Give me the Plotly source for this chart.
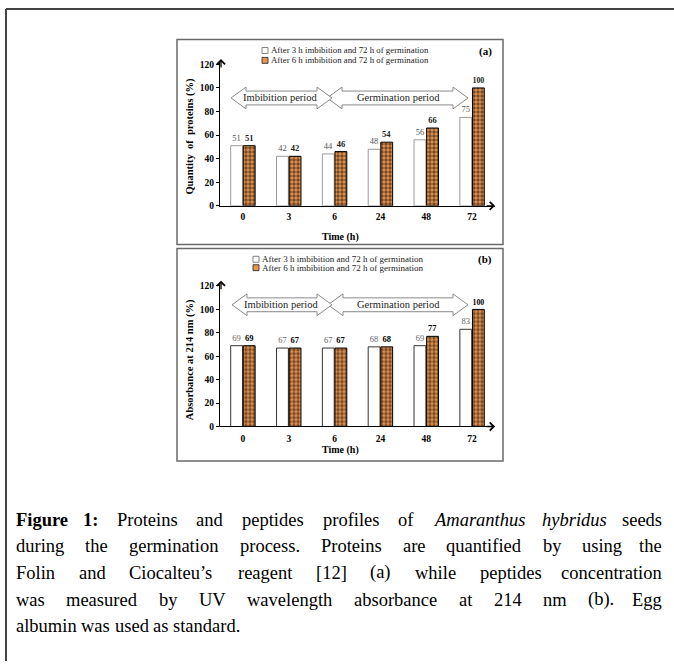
import plotly.graph_objects as go

# ---------------- data ----------------
categories = ["0", "3", "6", "24", "48", "72"]
proteins_3h = [51, 42, 44, 48, 56, 75]
proteins_6h = [51, 42, 46, 54, 66, 100]
absorb_3h = [69, 67, 67, 68, 69, 83]
absorb_6h = [69, 67, 67, 68, 77, 100]
y_ticks = [0, 20, 40, 60, 80, 100, 120]
legend_labels = ["After 3 h imbibition and 72 h of germination",
                 "After 6 h imbibition and 72 h of germination"]

W, H = 674, 666
FONT = "Liberation Serif"
ORANGE = "#e8954f"


def fx(px):
    return px / W


def fy(py):
    return 1 - py / H


fig = go.Figure()

# panel (a)
fig.add_trace(go.Bar(x=categories, y=proteins_3h, name=legend_labels[0],
                     marker=dict(color="white", line=dict(color="#9a9a9a", width=1)),
                     text=proteins_3h, textposition="outside",
                     textfont=dict(size=8.5, color="#555", family=FONT),
                     cliponaxis=False, xaxis="x", yaxis="y", showlegend=False))
fig.add_trace(go.Bar(x=categories, y=proteins_6h, name=legend_labels[1],
                     marker=dict(color=ORANGE, line=dict(color="black", width=1),
                                 pattern=dict(shape=".", fgcolor="black", bgcolor=ORANGE,
                                              size=4, solidity=0.6)),
                     text=proteins_6h, texttemplate="<b>%{y}</b>", textposition="outside",
                     textfont=dict(size=8.5, color="#222", family=FONT),
                     cliponaxis=False, xaxis="x", yaxis="y", showlegend=False))
# panel (b)
fig.add_trace(go.Bar(x=categories, y=absorb_3h, name=legend_labels[0],
                     marker=dict(color="white", line=dict(color="#333", width=1)),
                     text=absorb_3h, textposition="outside",
                     textfont=dict(size=8.5, color="#666", family=FONT),
                     cliponaxis=False, xaxis="x2", yaxis="y2", showlegend=False))
fig.add_trace(go.Bar(x=categories, y=absorb_6h, name=legend_labels[1],
                     marker=dict(color=ORANGE, line=dict(color="black", width=1),
                                 pattern=dict(shape=".", fgcolor="black", bgcolor=ORANGE,
                                              size=4, solidity=0.6)),
                     text=absorb_6h, texttemplate="<b>%{y}</b>", textposition="outside",
                     textfont=dict(size=8.5, color="black", family=FONT),
                     cliponaxis=False, xaxis="x2", yaxis="y2", showlegend=False))

# axis geometry (pixels)
xa0, xa1 = 220, 495
ya_zero, ya_120 = 206, 63
yb_zero, yb_120 = 429, 287
ytop = 122
ya_top = ya_zero - ytop * (ya_zero - ya_120) / 120
yb_top = yb_zero - ytop * (yb_zero - yb_120) / 120

xcommon = dict(type="category", range=[-0.5, 5.5], showline=True, linecolor="black",
               linewidth=1.3, ticks="", showgrid=False, zeroline=False,
               tickfont=dict(family=FONT, size=9.5, color="black", weight="bold"),
               domain=[fx(xa0), fx(xa1)])
ycommon = dict(range=[0, ytop], tickvals=y_ticks, showline=True, linecolor="black",
               linewidth=1.3, ticks="outside", ticklen=3, tickcolor="black",
               showgrid=False, zeroline=False,
               tickfont=dict(family=FONT, size=9.5, color="black", weight="bold"))

fig.update_layout(
    width=W, height=H, margin=dict(l=0, r=0, t=0, b=0),
    paper_bgcolor="white", plot_bgcolor="white",
    barmode="group", bargap=0.45, bargroupgap=0.06,
    font=dict(family=FONT, color="black"),
    xaxis=dict(**xcommon, anchor="y", ticklabelstandoff=2),
    yaxis=dict(**ycommon, anchor="x", domain=[fy(ya_zero), fy(ya_top)]),
    xaxis2=dict(**xcommon, anchor="y2", ticklabelstandoff=3),
    yaxis2=dict(**ycommon, anchor="x2", domain=[fy(yb_zero), fy(yb_top)]),
)

shapes = []
ann = []

# outer frame (top and left lines)
shapes.append(dict(type="line", xref="paper", yref="paper", x0=fx(6), x1=fx(674),
                   y0=fy(7), y1=fy(7), line=dict(color="#444", width=2)))
shapes.append(dict(type="line", xref="paper", yref="paper", x0=fx(6), x1=fx(6),
                   y0=fy(7), y1=fy(666), line=dict(color="#444", width=2)))
# panel boxes
for (t, b) in [(38, 245), (249, 464)]:
    shapes.append(dict(type="rect", xref="paper", yref="paper", x0=fx(177), x1=fx(503),
                       y0=fy(b), y1=fy(t), line=dict(color="#6a6a6a", width=1.5)))


def block_arrow(x0, x1, yc, hl=15, hh=11, bh=7):
    pts = [(x0, yc), (x0 + hl, yc - hh), (x0 + hl, yc - bh), (x1 - hl, yc - bh),
           (x1 - hl, yc - hh), (x1, yc), (x1 - hl, yc + hh), (x1 - hl, yc + bh),
           (x0 + hl, yc + bh), (x0 + hl, yc + hh)]
    path = "M" + " L".join(f"{fx(px):.5f},{fy(py):.5f}" for px, py in pts) + " Z"
    return dict(type="path", xref="paper", yref="paper", path=path,
                fillcolor="white", line=dict(color="#8a8a8a", width=1), layer="above")


for yc, (ix0, ix1, gx0, gx1) in [(97, (231, 332, 327, 468)), (306, (232, 332, 328, 468))]:
    shapes.append(block_arrow(gx0, gx1, yc))
    shapes.append(block_arrow(ix0, ix1, yc))
    ann.append(dict(x=fx((ix0 + ix1) / 2 - 1), y=fy(yc), text="Imbibition period",
                    font=dict(size=10.5, family=FONT, color="#222")))
    ann.append(dict(x=fx((gx0 + gx1) / 2 + 1), y=fy(yc), text="Germination period",
                    font=dict(size=10.5, family=FONT, color="#222")))

# axis arrow heads
for (xt, yt, ax_, ay_) in [(221, ya_top - 3, 0, 10), (xa1, ya_zero, -10, 0),
                          (221, yb_top - 3, 0, 10), (xa1, yb_zero, -10, 0)]:
    ann.append(dict(x=fx(xt), y=fy(yt), ax=ax_, ay=ay_, text="", showarrow=True,
                    arrowhead=4, arrowsize=1.2, arrowwidth=1.3, arrowcolor="black"))

# titles
ann.append(dict(x=fx(190), y=fy(136), text="<b>Quantity  of  proteins (%)</b>", textangle=-90,
                font=dict(size=10.5, family=FONT)))
ann.append(dict(x=fx(190), y=fy(362), text="<b>Absorbance at 214 nm (%)</b>", textangle=-90,
                font=dict(size=10.5, family=FONT)))
ann.append(dict(x=fx(340), y=fy(237), text="<b>Time (h)</b>", font=dict(size=10, family=FONT)))
ann.append(dict(x=fx(340), y=fy(453), text="<b>Time (h)</b>", font=dict(size=10, family=FONT)))
ann.append(dict(x=fx(485), y=fy(50), text="<b>(a)</b>", font=dict(size=11, family=FONT)))
ann.append(dict(x=fx(485), y=fy(260), text="<b>(b)</b>", font=dict(size=11, family=FONT)))

# legends
for (mx, ys, fs) in [(265, (49, 59), 8.8), (256, (260, 268.5), 9)]:
    for i, yy in enumerate(ys):
        if i == 0:
            shapes.append(dict(type="rect", xref="paper", yref="paper",
                               x0=fx(mx - 3), x1=fx(mx + 3), y0=fy(yy + 3), y1=fy(yy - 3),
                               fillcolor="white", line=dict(color="#666", width=0.8)))
        else:
            shapes.append(dict(type="rect", xref="paper", yref="paper",
                               x0=fx(mx - 3), x1=fx(mx + 3), y0=fy(yy + 3), y1=fy(yy - 3),
                               fillcolor=ORANGE, line=dict(color="#222", width=0.8)))
        ann.append(dict(x=fx(mx + 4), y=fy(yy), xanchor="left", text=legend_labels[i],
                        font=dict(size=fs, family=FONT, color="#222")))

# caption (justified by word placement)
TW = {' ': 250, 'a': 444, 'b': 500, 'c': 444, 'd': 500, 'e': 444, 'f': 333, 'g': 500,
      'h': 500, 'i': 278, 'j': 278, 'k': 500, 'l': 278, 'm': 778, 'n': 500, 'o': 500,
      'p': 500, 'q': 500, 'r': 333, 's': 389, 't': 278, 'u': 500, 'v': 500, 'w': 722,
      'x': 500, 'y': 500, 'z': 444, 'A': 722, 'B': 667, 'C': 667, 'D': 722, 'E': 611,
      'F': 556, 'G': 722, 'H': 722, 'I': 333, 'P': 556, 'U': 722, 'V': 722, 'W': 944,
      '.': 250, ',': 250, ':': 278, '(': 333, ')': 333, '[': 333, ']': 333, '’': 333}
CAP_FS = 18.5


def wwidth(s):
    return sum(TW.get(ch, 500) for ch in s) / 1000 * CAP_FS


caption_lines = [
    [("Figure", "b"), ("1:", "b"), ("Proteins", ""), ("and", ""), ("peptides", ""),
     ("profiles", ""), ("of", ""), ("Amaranthus", "i"), ("hybridus", "i"), ("seeds", "")],
    [(w, "") for w in "during the germination process. Proteins are quantified by using the".split()],
    [(w, "") for w in "Folin and Ciocalteu’s reagent [12] (a) while peptides concentration".split()],
    [(w, "") for w in "was measured by UV wavelength absorbance at 214 nm (b). Egg".split()],
    [(w, "") for w in "albumin was used as standard.".split()],
]
line_y = [523, 550, 577, 604, 631]
cx0, cx1 = 14, 664

for li, (words, yy) in enumerate(zip(caption_lines, line_y)):
    widths = [wwidth(w) for w, _ in words]
    justified = li < len(caption_lines) - 1
    gap = (cx1 - cx0 - sum(widths)) / (len(words) - 1) if justified else TW[' '] / 1000 * CAP_FS
    x = cx0
    for wi, ((w, st), wd) in enumerate(zip(words, widths)):
        txt = f"<{st}>{w}</{st}>" if st else w
        if justified and wi == len(words) - 1:
            ann.append(dict(x=fx(cx1), y=fy(yy), xanchor="right", text=txt,
                            font=dict(size=CAP_FS, family=FONT, color="black")))
        else:
            ann.append(dict(x=fx(x), y=fy(yy), xanchor="left", text=txt,
                            font=dict(size=CAP_FS, family=FONT, color="black")))
        x += wd + gap

for a in ann:
    a.setdefault("xref", "paper")
    a.setdefault("yref", "paper")
    a.setdefault("showarrow", False)
    if not a.get("showarrow"):
        a.setdefault("xanchor", "center")
        a.setdefault("yanchor", "middle")

fig.update_layout(shapes=shapes, annotations=ann)
fig.write_html("out.html", config={"displayModeBar": False},
               post_script="document.body.style.margin='0px';document.body.style.overflow='hidden';")
